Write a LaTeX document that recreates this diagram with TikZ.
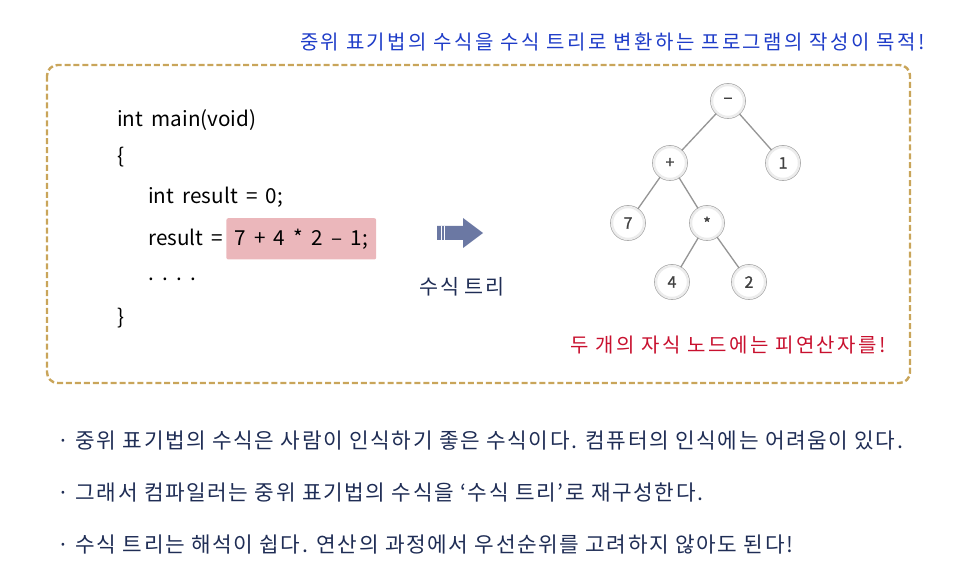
\documentclass[tikz,border=0pt]{standalone}
\usepackage{fontspec}
\setmainfont{Noto Sans CJK KR}
\newfontfamily\codefont[WordSpace=1.8]{Noto Sans CJK KR}
\newfontfamily\widefont[LetterSpace=7.5]{Noto Sans CJK KR}
\newfontfamily\labelfont[LetterSpace=6]{Noto Sans CJK KR}
\newfontfamily\handfont[LetterSpace=12]{Noto Sans CJK KR}
\newfontfamily\treefont[FakeBold=1.2]{Noto Sans CJK KR}
\usetikzlibrary{positioning}
\definecolor{titleblue}{RGB}{30, 60, 200}
\definecolor{notered}{RGB}{200, 16, 46}
\definecolor{textnavy}{RGB}{31, 45, 85}
\definecolor{framegold}{RGB}{201, 165, 90}
\definecolor{hlpink}{RGB}{235, 183, 187}
\definecolor{arrowslate}{RGB}{107, 120, 163}
\definecolor{edgegray}{RGB}{150, 150, 150}

\tikzset{
  code/.style={anchor=west, inner sep=0pt, font=\codefont\fontsize{15.5}{18}\selectfont, text=black},
  hlbox/.style={fill=hlpink, rounded corners=1.5pt, inner xsep=6pt, minimum height=31pt, font=\codefont\fontsize{15.5}{18}\selectfont, text=black},
  bullet/.style={anchor=west, inner sep=0pt, font=\widefont\fontsize{16}{19}\selectfont, text=textnavy},
  handnote/.style={anchor=east, inner sep=0pt, font=\handfont\fontsize{15}{18}\selectfont},
  tnode/.style={circle, minimum size=24pt, inner sep=0pt, fill=white, draw=gray!15, line width=1.8pt,
    preaction={draw=gray!70, line width=2.8pt}, font=\treefont\fontsize{12}{14}\selectfont, text=black!75},
  tedge/.style={draw=edgegray, line width=1pt},
}

\begin{document}
\begin{tikzpicture}[x=0.75pt, y=-0.75pt]
  \useasboundingbox (0,0) rectangle (966,580);

  % Goal
  \node[handnote, text=titleblue] (goal) at (925,42) {중위 표기법의 수식을 수식 트리로 변환하는 프로그램의 작성이 목적!};

  % Frame
  \draw[framegold, line width=1.8pt, dash pattern=on 4.5pt off 2.2pt, rounded corners=8pt] (47,65) rectangle (910,383);

  % Code
  \node[code] (sig) at (117,120) {int main(void)};
  \node[code] (lbrace) at (117,157) {\{};
  \node[code] (init) at (148,197) {int result = 0;};
  \node[code] (assign) at (148,237) {result =};
  \node[hlbox, base right=2pt of assign] (expr) {7 + 4 * 2 – 1;};
  \node[code] (dots) at (148,279) {.\ .\ .\ .};
  \node[code] (rbrace) at (117,318) {\}};

  % Arrow
  \fill[arrowslate] (437,226) -- (463,226) -- (463,218) -- (483,233) -- (463,248) -- (463,240) -- (437,240) -- cycle;
  \draw[white, line width=0.6pt] (441,226) -- (441,240) (444.5,226) -- (444.5,240);
  \node[font=\labelfont\fontsize{15.5}{18}\selectfont, text=textnavy] (treelabel) at (462,287) {수식 트리};

  % Tree
  \node[tnode] (minus) at (728,101) {−};
  \node[tnode] (plus) at (670,163) {+};
  \node[tnode] (one) at (783,163) {1};
  \node[tnode] (seven) at (628,223) {7};
  \node[tnode] (times) at (707,223) {*};
  \node[tnode] (four) at (672,282) {4};
  \node[tnode] (two) at (749,282) {2};
  \draw[tedge] (minus) -- (plus);
  \draw[tedge] (minus) -- (one);
  \draw[tedge] (plus) -- (seven);
  \draw[tedge] (plus) -- (times);
  \draw[tedge] (times) -- (four);
  \draw[tedge] (times) -- (two);

  \node[handnote, text=notered] (childnote) at (886,345) {두 개의 자식 노드에는 피연산자를!};

  % Notes
  \node[bullet] (note1) at (57,441) {· 중위 표기법의 수식은 사람이 인식하기 좋은 수식이다. 컴퓨터의 인식에는 어려움이 있다.};
  \node[bullet] (note2) at (57,493) {· 그래서 컴파일러는 중위 표기법의 수식을 ‘수식 트리’로 재구성한다.};
  \node[bullet] (note3) at (57,545) {· 수식 트리는 해석이 쉽다. 연산의 과정에서 우선순위를 고려하지 않아도 된다!};
\end{tikzpicture}
\end{document}
